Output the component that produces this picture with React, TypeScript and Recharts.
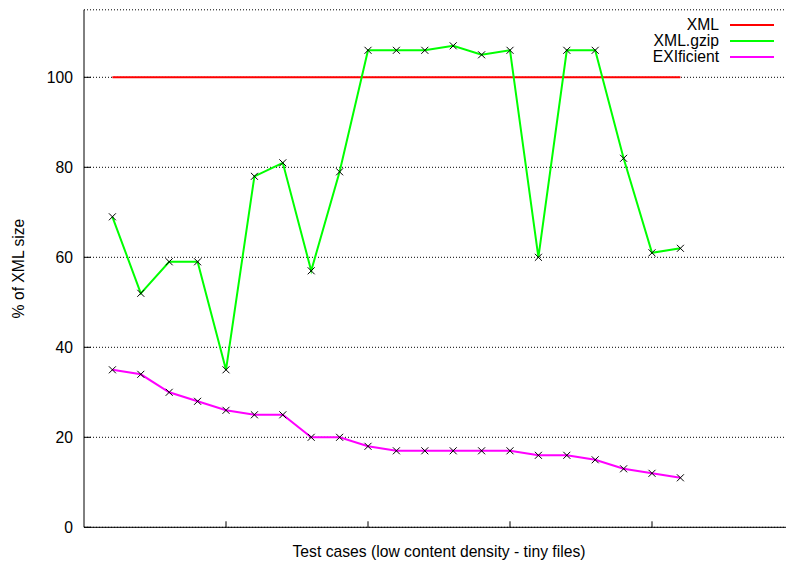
import React from 'react';
import { LineChart, Line, XAxis, YAxis, CartesianGrid, Legend, Label } from 'recharts';

// Test case index along the x axis
const testCases = [1, 2, 3, 4, 5, 6, 7, 8, 9, 10, 11, 12, 13, 14, 15, 16, 17, 18, 19, 20, 21];
// Encoded size as % of the plain XML size
const xmlSize = [100, 100, 100, 100, 100, 100, 100, 100, 100, 100, 100, 100, 100, 100, 100, 100, 100, 100, 100, 100, 100];
const gzipSize = [69, 52, 59, 59, 35, 78, 81, 57, 79, 106, 106, 106, 107, 105, 106, 60, 106, 106, 82, 61, 62];
const exiSize = [35, 34, 30, 28, 26, 25, 25, 20, 20, 18, 17, 17, 17, 17, 17, 16, 16, 15, 13, 12, 11];

const yTicks = [0, 20, 40, 60, 80, 100];
const xTicks = [5, 10, 15, 20];
const xDomain = [0, 25];
const yDomain = [0, 115];

const seriesNames = { xml: 'XML', gzip: 'XML.gzip', exi: 'EXIficient' };
const seriesColors = { xml: '#ff0000', gzip: '#00ff00', exi: '#ff00ff' };
const legendOrder = [seriesNames.xml, seriesNames.gzip, seriesNames.exi];

const data = testCases.map((x, i) => ({
  x,
  xml: xmlSize[i],
  gzip: gzipSize[i],
  exi: exiSize[i],
}));

const FONT = '"Liberation Sans", Arial, Helvetica, sans-serif';
const FONT_SIZE = 15.7;

const LeftTick = (props: any) => {
  const { x, y, payload } = props;
  return (
    <g>
      <line x1={x} y1={y} x2={x + 7} y2={y} stroke="#000" strokeWidth={1} />
      <text
        x={x - 11}
        y={y}
        textAnchor="end"
        dominantBaseline="central"
        fontFamily={FONT}
        fontSize={FONT_SIZE}
        fill="#000"
      >
        {payload.value}
      </text>
    </g>
  );
};

const BottomTick = (props: any) => {
  const { x, y } = props;
  return <line x1={x} y1={y} x2={x} y2={y - 6} stroke="#000" strokeWidth={1} />;
};

const TopTick = (props: any) => {
  const { x, y } = props;
  return <line x1={x} y1={y} x2={x} y2={y + 7} stroke="#000" strokeWidth={1} />;
};

const CrossDot = (props: any) => {
  const { cx, cy, index } = props;
  if (cx == null || cy == null) return <g key={`d-${index}`} />;
  const r = 3.5;
  return (
    <path
      key={`d-${index}`}
      d={`M${cx - r},${cy - r}L${cx + r},${cy + r}M${cx - r},${cy + r}L${cx + r},${cy - r}`}
      stroke="#000"
      strokeWidth={1}
      fill="none"
    />
  );
};

const YLabel = (props: any) => {
  const { viewBox } = props;
  const cx = viewBox.x + 19;
  const cy = viewBox.y + viewBox.height / 2;
  return (
    <text
      x={cx}
      y={cy}
      transform={`rotate(-90, ${cx}, ${cy})`}
      textAnchor="middle"
      dominantBaseline="central"
      fontFamily={FONT}
      fontSize={FONT_SIZE}
      fill="#000"
    >
      % of XML size
    </text>
  );
};

const XLabel = (props: any) => {
  const { viewBox } = props;
  const cx = viewBox.x + viewBox.width / 2;
  const cy = viewBox.y + 24;
  return (
    <text
      x={cx}
      y={cy}
      textAnchor="middle"
      dominantBaseline="central"
      fontFamily={FONT}
      fontSize={FONT_SIZE}
      fill="#000"
    >
      Test cases (low content density - tiny files)
    </text>
  );
};

const renderLegend = (props: any) => {
  const entries = [...(props.payload || [])].sort(
    (a: any, b: any) => legendOrder.indexOf(a.value) - legendOrder.indexOf(b.value)
  );
  return (
    <div style={{ fontFamily: FONT, fontSize: FONT_SIZE, color: '#000' }}>
      {entries.map((entry: any) => (
        <div
          key={entry.value}
          style={{ display: 'flex', alignItems: 'center', height: 16, lineHeight: '16px' }}
        >
          <span style={{ flex: 1, textAlign: 'right', whiteSpace: 'nowrap' }}>{entry.value}</span>
          <span
            style={{
              display: 'inline-block',
              width: 44,
              height: 2,
              marginLeft: 11,
              background: entry.color,
            }}
          />
        </div>
      ))}
    </div>
  );
};

export default function App() {
  return (
    <div
      style={{
        position: 'fixed',
        left: 0,
        top: 0,
        width: 786,
        height: 564,
        overflow: 'hidden',
        background: '#fff',
      }}
    >
      <LineChart
        width={800}
        height={564}
        data={data}
        margin={{ top: 9.8, right: 6, bottom: 0, left: 0 }}
      >
        <CartesianGrid
          horizontal={true}
          vertical={false}
          stroke="#000"
          strokeDasharray="1 2"
          strokeWidth={1}
        />
        <XAxis
          dataKey="x"
          type="number"
          domain={xDomain}
          ticks={xTicks}
          height={36.7}
          tickSize={0}
          tickMargin={0}
          tickLine={false}
          axisLine={{ stroke: '#000', strokeWidth: 1 }}
          tick={<BottomTick />}
          interval={0}
        >
          <Label content={<XLabel />} />
        </XAxis>
        <XAxis
          xAxisId="top"
          orientation="top"
          dataKey="x"
          type="number"
          domain={xDomain}
          ticks={xTicks}
          height={0}
          tickSize={0}
          tickMargin={0}
          tickLine={false}
          axisLine={{ stroke: '#000', strokeWidth: 1 }}
          tick={<TopTick />}
          interval={0}
        />
        <YAxis
          type="number"
          domain={yDomain}
          ticks={yTicks}
          width={84}
          tickSize={0}
          tickMargin={0}
          tickLine={false}
          axisLine={{ stroke: '#000', strokeWidth: 1 }}
          tick={<LeftTick />}
          interval={0}
        >
          <Label content={<YLabel />} />
        </YAxis>
        <Legend
          layout="horizontal"
          verticalAlign="middle"
          align="center"
          wrapperStyle={{ top: 17, left: 560, width: 214 }}
          content={renderLegend}
        />
        <Line
          dataKey="xml"
          name={seriesNames.xml}
          stroke={seriesColors.xml}
          strokeWidth={2}
          dot={false}
          activeDot={false}
          isAnimationActive={false}
          type="linear"
        />
        <Line
          dataKey="gzip"
          name={seriesNames.gzip}
          stroke={seriesColors.gzip}
          strokeWidth={2}
          dot={CrossDot}
          activeDot={false}
          isAnimationActive={false}
          type="linear"
        />
        <Line
          dataKey="exi"
          name={seriesNames.exi}
          stroke={seriesColors.exi}
          strokeWidth={2}
          dot={CrossDot}
          activeDot={false}
          isAnimationActive={false}
          type="linear"
        />
      </LineChart>
    </div>
  );
}
